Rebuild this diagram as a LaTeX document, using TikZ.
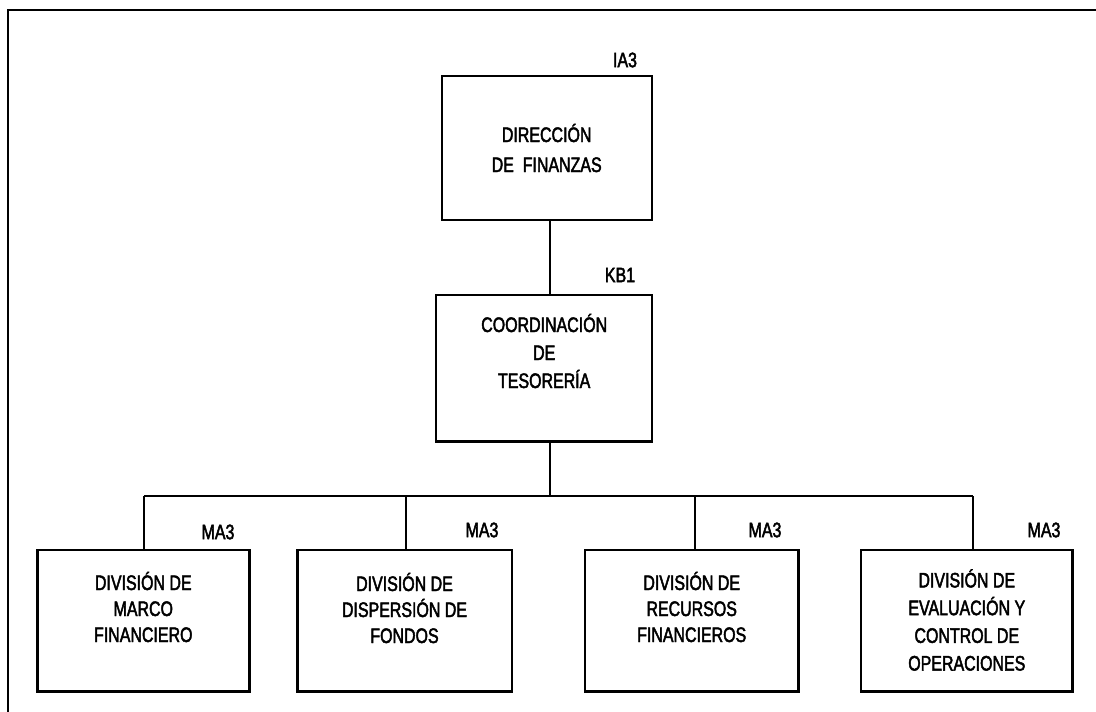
\documentclass[tikz,border=0pt]{standalone}
\usepackage{fontspec}
\setmainfont{Liberation Sans}[FakeStretch=0.76, FakeBold=2.2]
\begin{document}
\begin{tikzpicture}[x=1pt,y=-1pt,
  box/.style={draw, line width=2.4pt, inner sep=0pt},
  conn/.style={line width=1.8pt},
  frameline/.style={line width=2.4pt},
  txt/.style={align=center, inner sep=0pt, font=\fontsize{21}{#1}\selectfont},
  code/.style={inner sep=0pt, font=\fontsize{21}{23}\selectfont}]
\useasboundingbox (0,0) rectangle (1096,712);
% frame (top and left edges visible)
\coordinate (fTL) at (8,10);
\coordinate (fTR) at (1100,10);
\coordinate (fBL) at (8,716);
\draw[frameline] (fTR) -- (fTL) -- (fBL);
% boxes
\node[box, minimum width=210pt, minimum height=144pt] (dir) at (546.7,148) {};
\node[box, minimum width=216pt, minimum height=146.7pt] (coo) at (544.2,368.3) {};
\node[box, minimum width=212pt, minimum height=141.7pt] (bA) at (143.3,620.8) {};
\node[box, minimum width=214.4pt, minimum height=141.7pt] (bB) at (404.5,620.8) {};
\node[box, minimum width=213.3pt, minimum height=141.7pt] (bC) at (691.7,620.8) {};
\node[box, minimum width=211.7pt, minimum height=141.7pt] (bD) at (966.8,620.8) {};
% texts
\node[txt=30] (tdir) at (546.7,148) {DIRECCIÓN\\DE\ \ FINANZAS};
\node[txt=28] (tcoo) at (544.2,351) {COORDINACIÓN\\DE\\TESORERÍA};
\node[txt=26] (tA) at (143.3,607) {DIVISIÓN DE\\MARCO\\FINANCIERO};
\node[txt=26] (tB) at (404.5,608) {DIVISIÓN DE\\DISPERSIÓN DE\\FONDOS};
\node[txt=26] (tC) at (691.7,607) {DIVISIÓN DE\\RECURSOS\\FINANCIEROS};
\node[txt=27.7] (tD) at (966.8,620) {DIVISIÓN DE\\EVALUACIÓN Y\\CONTROL DE\\OPERACIONES};
% codes
\node[code] (cdir) at (625,60) {IA3};
\node[code] (ccoo) at (620,275) {KB1};
\node[code] (cA) at (218,532) {MA3};
\node[code] (cB) at (482,530) {MA3};
\node[code] (cC) at (765,530) {MA3};
\node[code] (cD) at (1044,530) {MA3};
% connectors
\coordinate (dirS) at (550,220);
\coordinate (cooN) at (550,295);
\coordinate (cooS) at (550,441.7);
\coordinate (busM) at (550,496);
\coordinate (busA) at (144,496);
\coordinate (busB) at (406,496);
\coordinate (busC) at (695,496);
\coordinate (busD) at (972.7,496);
\draw[conn] (dir.south -| dirS) -- (coo.north -| cooN);
\draw[conn] (coo.south -| cooS) -- (busM);
\draw[conn] (busA) -- (busD);
\draw[conn] (busA) -- (bA.north -| busA);
\draw[conn] (busB) -- (bB.north -| busB);
\draw[conn] (busC) -- (bC.north -| busC);
\draw[conn] (busD) -- (bD.north -| busD);
\end{tikzpicture}
\end{document}
